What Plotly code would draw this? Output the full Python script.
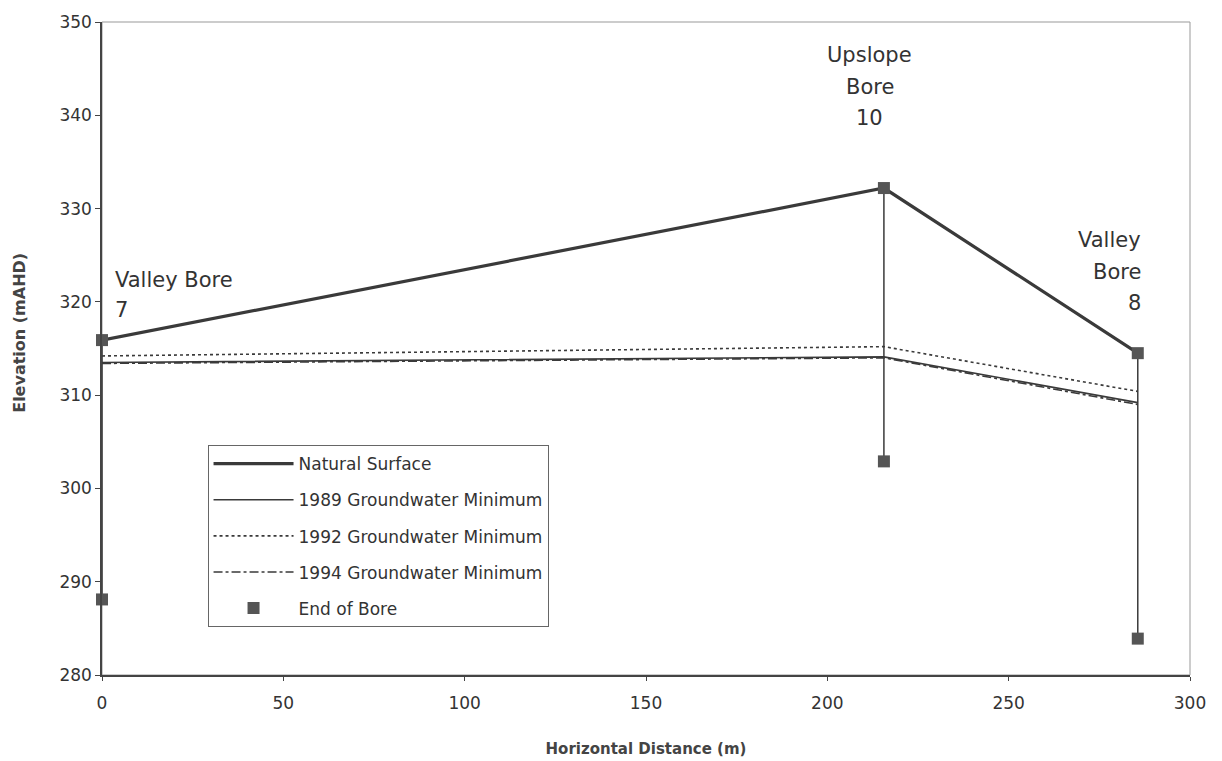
import plotly.graph_objects as go

# Bore positions along the transect (m) and elevations (mAHD)
bore_x = [0, 215.6, 285.6]
surface_z = [315.9, 332.2, 314.5]
end_of_bore_z = [288.1, 302.9, 283.9]

# Groundwater minima at each bore (mAHD)
gw_1989 = [313.5, 314.1, 309.2]
gw_1992 = [314.2, 315.2, 310.4]
gw_1994 = [313.4, 314.0, 309.0]

FONT = "DejaVu Sans, Liberation Sans, Arial, sans-serif"
DARK = "#3a3a3a"
TEXT = "#333333"

fig = go.Figure()

# Bore casings: vertical lines from surface down to end of bore
for bx, top, bot in zip(bore_x, surface_z, end_of_bore_z):
    fig.add_trace(go.Scatter(
        x=[bx, bx], y=[top, bot], mode="lines", cliponaxis=False,
        line=dict(color=DARK, width=1.5), showlegend=False, hoverinfo="skip"))

fig.add_trace(go.Scatter(
    x=bore_x, y=surface_z, mode="lines", name="Natural Surface",
    line=dict(color=DARK, width=3.2), legendgroup="a"))
fig.add_trace(go.Scatter(
    x=bore_x, y=surface_z, mode="markers", showlegend=False, cliponaxis=False,
    marker=dict(symbol="square", size=12, color="#555555"), hoverinfo="skip"))
fig.add_trace(go.Scatter(
    x=bore_x, y=gw_1989, mode="lines", name="1989 Groundwater Minimum",
    line=dict(color=DARK, width=1.6), legendgroup="b"))
fig.add_trace(go.Scatter(
    x=bore_x, y=gw_1992, mode="lines", name="1992 Groundwater Minimum",
    line=dict(color=DARK, width=1.6, dash="dot"), legendgroup="c"))
fig.add_trace(go.Scatter(
    x=bore_x, y=gw_1994, mode="lines", name="1994 Groundwater Minimum",
    line=dict(color=DARK, width=1.6, dash="dashdot"), legendgroup="d"))
fig.add_trace(go.Scatter(
    x=bore_x, y=end_of_bore_z, mode="markers", name="End of Bore", cliponaxis=False,
    marker=dict(symbol="square", size=12, color="#555555"), legendgroup="e"))

# Bore labels, one line each: (x, y, text, anchor)
label_lines = [
    (3.0, 322.35, "Valley Bore", "left"),
    (3.0, 319.1, "7", "left"),
    (211.7, 346.5, "Upslope", "center"),
    (211.7, 343.0, "Bore", "center"),
    (211.7, 339.7, "10", "center"),
    (287.0, 326.6, "Valley", "right"),
    (287.0, 323.2, "Bore", "right"),
    (287.0, 319.9, "8", "right"),
]
annotations = [
    dict(x=lx, y=ly, text=t, xref="x", yref="y", xanchor=anc, yanchor="middle",
         showarrow=False, font=dict(family=FONT, size=21, color=TEXT))
    for lx, ly, t, anc in label_lines
]

# Y axis title, placed in paper coordinates left of the axis
annotations.append(dict(
    x=-0.0754, y=0.524, xref="paper", yref="paper", text="<b>Elevation (mAHD)</b>",
    textangle=-90, showarrow=False, xanchor="center", yanchor="middle",
    font=dict(family=FONT, size=16, color="#444444")))

fig.update_layout(
    width=1222, height=761,
    margin=dict(l=102, r=32, t=22, b=86),
    paper_bgcolor="white", plot_bgcolor="white",
    annotations=annotations,
    showlegend=True,
    legend=dict(
        x=0.097, y=0.352, xanchor="left", yanchor="top",
        bgcolor="white", bordercolor="#666666", borderwidth=1,
        font=dict(family=FONT, size=17, color=TEXT),
        itemwidth=80, traceorder="grouped", tracegroupgap=11,
    ),
    xaxis=dict(
        range=[0, 300], tickvals=[0, 50, 100, 150, 200, 250, 300],
        showgrid=False, zeroline=False, automargin=False,
        showline=True, linecolor="#444444", linewidth=1.5,
        ticks="outside", ticklen=4, tickcolor="#444444",
        ticklabelstandoff=8,
        tickfont=dict(family=FONT, size=17, color=TEXT),
        title=dict(text="<b>Horizontal Distance (m)</b>", standoff=31,
                   font=dict(family=FONT, size=15, color="#444444")),
    ),
    yaxis=dict(
        range=[280, 350], tickvals=[280, 290, 300, 310, 320, 330, 340, 350],
        showgrid=False, zeroline=False, automargin=False,
        showline=True, linecolor="#444444", linewidth=1.5,
        ticks="outside", ticklen=5, tickcolor="#444444",
        tickfont=dict(family=FONT, size=17, color=TEXT),
    ),
    shapes=[dict(type="rect", xref="paper", yref="paper", x0=0, y0=0, x1=1, y1=1,
                 line=dict(color="#999999", width=1), layer="below")],
)

fig.write_html("out.html")
